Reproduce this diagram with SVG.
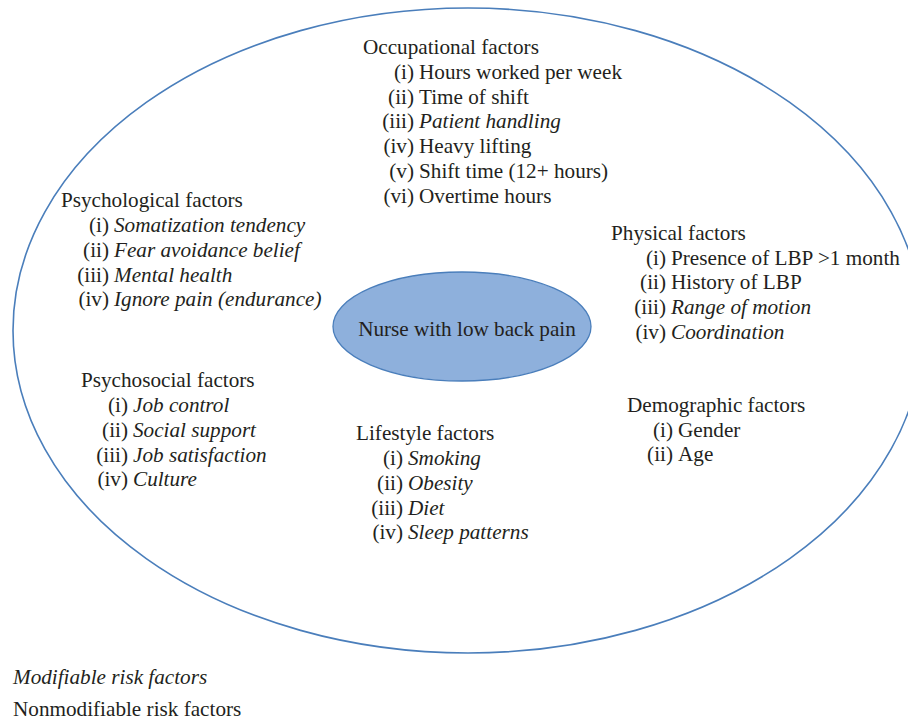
<svg xmlns="http://www.w3.org/2000/svg" width="908" height="720" viewBox="0 0 908 720">
<style>
text{font-family:"Liberation Serif","Times New Roman",serif;font-size:21.2px;fill:#231f20}
.n{text-anchor:end}
.i{font-style:italic}
.c{text-anchor:middle}
</style>
<rect width="908" height="720" fill="#fff"/>
<g id="outer"><ellipse cx="468" cy="330.5" rx="455" ry="322.5" fill="none" stroke="#4a7ebb" stroke-width="1.6"/></g>
<g id="connectors"/>
<g id="center"><ellipse cx="462" cy="326.5" rx="129" ry="54.5" fill="#8eb0dc" stroke="#4a7ebb" stroke-width="1.3"/><text class="c" x="467" y="336">Nurse with low back pain</text></g>
<g id="occupational">
<text x="363" y="54">Occupational factors</text>
<text class="n" x="414" y="79">(i)</text><text x="419" y="79">Hours worked per week</text>
<text class="n" x="414" y="104">(ii)</text><text x="419" y="104">Time of shift</text>
<text class="n" x="414" y="128">(iii)</text><text class="i" x="419" y="128">Patient handling</text>
<text class="n" x="414" y="153">(iv)</text><text x="419" y="153">Heavy lifting</text>
<text class="n" x="414" y="178">(v)</text><text x="419" y="178">Shift time (12+ hours)</text>
<text class="n" x="414" y="203">(vi)</text><text x="419" y="203">Overtime hours</text>
</g>
<g id="psychological">
<text x="61" y="207">Psychological factors</text>
<text class="n" x="109" y="232">(i)</text><text class="i" x="114" y="232">Somatization tendency</text>
<text class="n" x="109" y="257">(ii)</text><text class="i" x="114" y="257">Fear avoidance belief</text>
<text class="n" x="109" y="282">(iii)</text><text class="i" x="114" y="282">Mental health</text>
<text class="n" x="109" y="306">(iv)</text><text class="i" x="114" y="306">Ignore pain (endurance)</text>
</g>
<g id="physical">
<text x="611" y="240">Physical factors</text>
<text class="n" x="666" y="265">(i)</text><text x="671" y="265">Presence of LBP &gt;1 month</text>
<text class="n" x="666" y="289">(ii)</text><text x="671" y="289">History of LBP</text>
<text class="n" x="666" y="314">(iii)</text><text class="i" x="671" y="314">Range of motion</text>
<text class="n" x="666" y="339">(iv)</text><text class="i" x="671" y="339">Coordination</text>
</g>
<g id="psychosocial">
<text x="81" y="387">Psychosocial factors</text>
<text class="n" x="128" y="412">(i)</text><text class="i" x="133" y="412">Job control</text>
<text class="n" x="128" y="437">(ii)</text><text class="i" x="133" y="437">Social support</text>
<text class="n" x="128" y="462">(iii)</text><text class="i" x="133" y="462">Job satisfaction</text>
<text class="n" x="128" y="486">(iv)</text><text class="i" x="133" y="486">Culture</text>
</g>
<g id="demographic">
<text x="627" y="412">Demographic factors</text>
<text class="n" x="673" y="437">(i)</text><text x="678" y="437">Gender</text>
<text class="n" x="673" y="461">(ii)</text><text x="678" y="461">Age</text>
</g>
<g id="lifestyle">
<text x="356" y="440">Lifestyle factors</text>
<text class="n" x="403" y="465">(i)</text><text class="i" x="408" y="465">Smoking</text>
<text class="n" x="403" y="490">(ii)</text><text class="i" x="408" y="490">Obesity</text>
<text class="n" x="403" y="515">(iii)</text><text class="i" x="408" y="515">Diet</text>
<text class="n" x="403" y="539">(iv)</text><text class="i" x="408" y="539">Sleep patterns</text>
</g>
<g id="legend">
<text class="i" x="13" y="684">Modifiable risk factors</text>
<text x="13" y="716">Nonmodifiable risk factors</text>
</g>
</svg>
